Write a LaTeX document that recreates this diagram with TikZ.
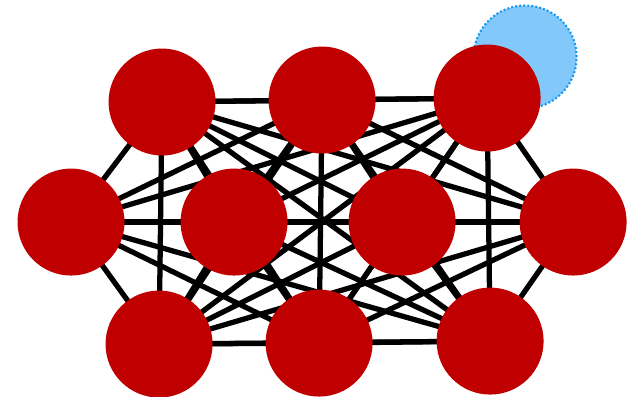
\documentclass[tikz,border=0pt]{standalone}
\usepackage{xcolor}
\usepackage{tikz}
\usetikzlibrary{positioning}
\usetikzlibrary{backgrounds}
\definecolor{nodered}{RGB}{192,0,0}
\definecolor{haloblue}{RGB}{130,200,250}
\definecolor{haloedge}{RGB}{20,150,240}
\tikzstyle{bigvertex}=[circle,fill=nodered,minimum size=2.14cm,inner sep=0pt]
\tikzstyle{undirectededge} = [draw,line width=3pt]
\tikzstyle{halo}=[circle,fill=haloblue,draw=haloedge,line width=1.2pt,dash pattern=on 1.1pt off 1.2pt,minimum size=2.06cm,inner sep=0pt]

\begin{document}
\begin{tikzpicture}[scale=1., auto,swap]

 \useasboundingbox (0,0) rectangle (12.7,-7.94);

 % 1 px = 0.02 cm
 \def\u{0.02};

 %top row
   \foreach \x/\y/\name in { 162/102/T1, 322/100/T2, 487/98/T3}
          \node[bigvertex] (\name) at (\x*\u, -\y*\u) {};

 %middle row
   \foreach \x/\y/\name in { 71/222/M1, 234/222/M2, 402/222/M3, 573/222/M4}
          \node[bigvertex] (\name) at (\x*\u, -\y*\u) {};

 %bottom row
   \foreach \x/\y/\name in { 159/344/B1, 319/343/B2, 490/341/B3}
          \node[bigvertex] (\name) at (\x*\u, -\y*\u) {};

 \begin{pgfonlayer}{background}
   \node[halo] (H) at (525*\u, -57*\u) {};

  \foreach \source/ \dest in {T1/T2, T1/T3, T1/M1, T1/M2, T1/M3, T1/M4, T1/B1, T1/B2, T1/B3}
         \path[undirectededge] (\source.center) -- (\dest.center);

  \foreach \source/ \dest in {T2/T3, T2/M1, T2/M2, T2/M3, T2/M4, T2/B1, T2/B2, T2/B3}
         \path[undirectededge] (\source.center) -- (\dest.center);

  \foreach \source/ \dest in {T3/M1, T3/M2, T3/M3, T3/M4, T3/B1, T3/B2, T3/B3}
         \path[undirectededge] (\source.center) -- (\dest.center);

  \foreach \source/ \dest in {M1/M2, M1/M3, M1/M4, M1/B1, M1/B2, M1/B3}
         \path[undirectededge] (\source.center) -- (\dest.center);

  \foreach \source/ \dest in {M2/M3, M2/M4, M2/B1, M2/B2, M2/B3, M3/M4, M3/B1, M3/B2, M3/B3}
         \path[undirectededge] (\source.center) -- (\dest.center);

  \foreach \source/ \dest in {M4/B1, M4/B2, M4/B3, B1/B2, B1/B3, B2/B3}
         \path[undirectededge] (\source.center) -- (\dest.center);
 \end{pgfonlayer}

\end{tikzpicture}
\end{document}
